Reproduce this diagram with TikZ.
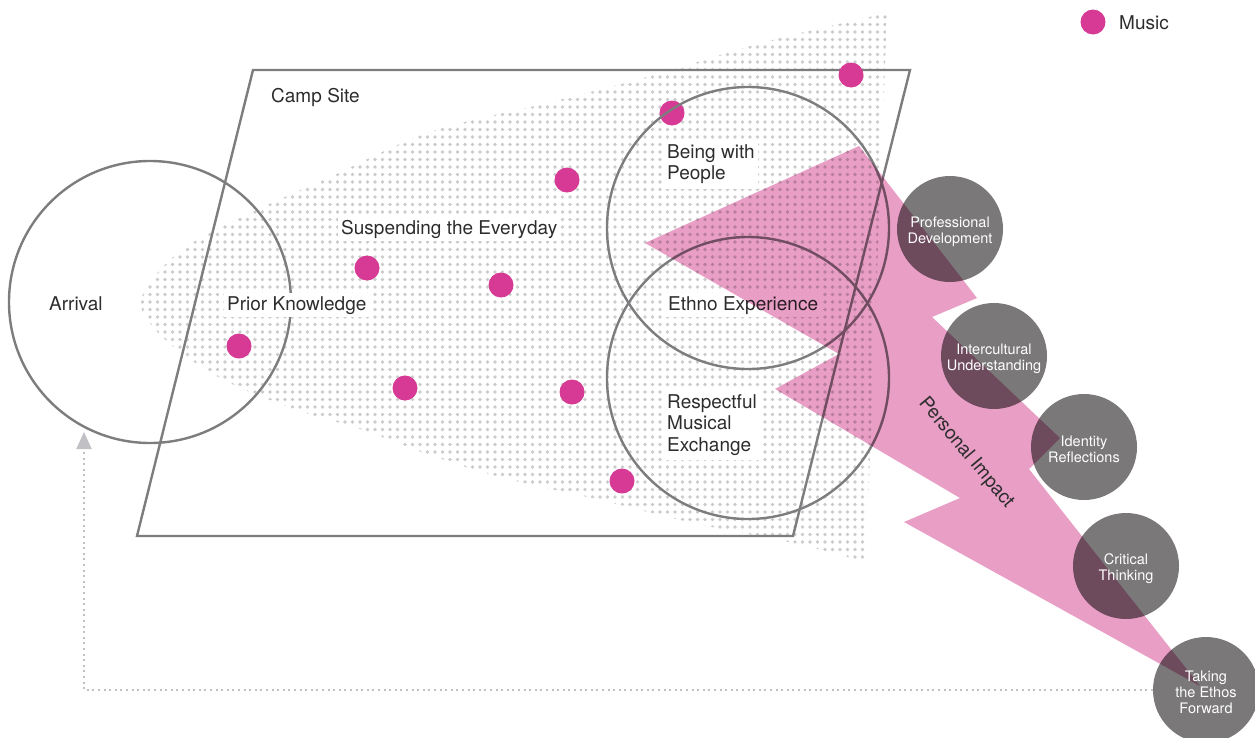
\documentclass[tikz,border=0pt]{standalone}
\usepackage{fontspec}
\setmainfont{TeX Gyre Heros}
\usetikzlibrary{patterns.meta,arrows.meta}
\definecolor{dotgray}{RGB}{203,203,203}
\definecolor{linegray}{RGB}{125,125,127}
\definecolor{txt}{RGB}{45,45,45}
\definecolor{pinkc}{RGB}{232,158,197}
\definecolor{darkc}{RGB}{122,120,121}
\definecolor{magc}{RGB}{214,58,148}
\definecolor{arrgray}{RGB}{192,192,197}
\begin{document}
\begin{tikzpicture}[x=1pt,y=-1pt,
  outl/.style={draw=linegray, line width=2.4pt},
  bigc/.style={circle, outl, minimum size=282pt, inner sep=0pt},
  music/.style={circle, fill=magc, minimum size=25pt, inner sep=0pt},
  impact/.style={circle, fill=darkc, minimum size=106pt, inner sep=0pt},
  itext/.style={text=white, align=center, font=\fontsize{14.5}{16}\selectfont, inner sep=0pt, yshift=-2.5pt},
  lbl/.style={text=txt, font=\fontsize{19}{21.5}\selectfont, anchor=base west, inner sep=0pt},
  knock/.style={lbl, fill=white, inner sep=3pt},
  backarrow/.style={draw=arrgray, line width=2pt, dash pattern=on 2pt off 3.6pt, -{Triangle[width=15pt,length=17pt]}}
]
\useasboundingbox (0,0) rectangle (1255,737);
% dotted field
\fill[pattern={Dots[distance=7.5pt,radius=1.8pt]}, pattern color=dotgray]
  plot[smooth, tension=0.6] coordinates {(887,13) (813,30) (747,47) (647,77) (547,103) (430,132) (330,177) (263,207) (200,238) (163,267) (141,300) (153,327) (187,357) (230,383) (297,410) (363,430) (430,455) (500,477) (600,500) (693,523) (793,543) (866,562)} -- cycle;
% camp site
\draw[outl, line join=miter] (253,70) -- (910,70) -- (793,536) -- (137,536) -- cycle;
% music dots
\node[music] (m1) at (851,75) {};
\node[music] (m2) at (672,113) {};
\node[music] (m3) at (567,180) {};
\node[music] (m4) at (367,268) {};
\node[music] (m5) at (501,285) {};
\node[music] (m6) at (239,346) {};
\node[music] (m7) at (405,388) {};
\node[music] (m8) at (572,392) {};
\node[music] (m9) at (622,481) {};
% big circles
\node[bigc] (arrivalc) at (150,302) {};
\node[bigc] (beingc) at (748,228) {};
\node[bigc] (respectc) at (748,378) {};
% labels
\node[lbl] (camp) at (271,102) {Camp Site};
\node[lbl] (arrival) at (49,310) {Arrival};
\node[knock] (susp) at (338,234) {Suspending the Everyday};
\node[knock] (prior) at (224,310) {Prior Knowledge};
\node[knock] (being) at (664,158) {\begin{tabular}[t]{@{}l@{}}Being with\\People\end{tabular}};
\node[knock] (ethno) at (665,310) {Ethno Experience};
\node[knock] (respect) at (664,408) {\begin{tabular}[t]{@{}l@{}}Respectful\\Musical\\Exchange\end{tabular}};
% legend
\node[music] (legdot) at (1093,22) {};
\node[lbl] (legtxt) at (1119,29) {Music};
% personal impact
\begin{scope}[blend mode=multiply]
\fill[pinkc] (645,243) -- (859,146) -- (977,298) -- (932,317) -- (1060,438) -- (1029,469) -- (1200,686) -- (904,522) -- (960,498) -- (775,389) -- (839,354) -- cycle;
\node[impact] (prof) at (950,229) {};
\node[impact] (inter) at (994,356) {};
\node[impact] (ident) at (1084,447) {};
\node[impact] (crit) at (1126,566) {};
\node[impact] (taking) at (1206,690) {};
\end{scope}
\node[itext] (proft) at (prof) {Professional\\Development};
\node[itext] (intert) at (inter) {Intercultural\\Understanding};
\node[itext] (identt) at (ident) {Identity\\Reflections};
\node[itext] (critt) at (crit) {Critical\\Thinking};
\node[itext] (takingt) at (taking) {Taking\\the Ethos\\Forward};
\node[text=txt, font=\fontsize{19}{21.5}\selectfont, rotate=-50, inner sep=0pt] (pimpact) at (966,453) {Personal Impact};
% return arrow
\coordinate (arrtip) at (84,432);
\draw[backarrow] (taking.west) -| (arrtip);
\end{tikzpicture}
\end{document}
